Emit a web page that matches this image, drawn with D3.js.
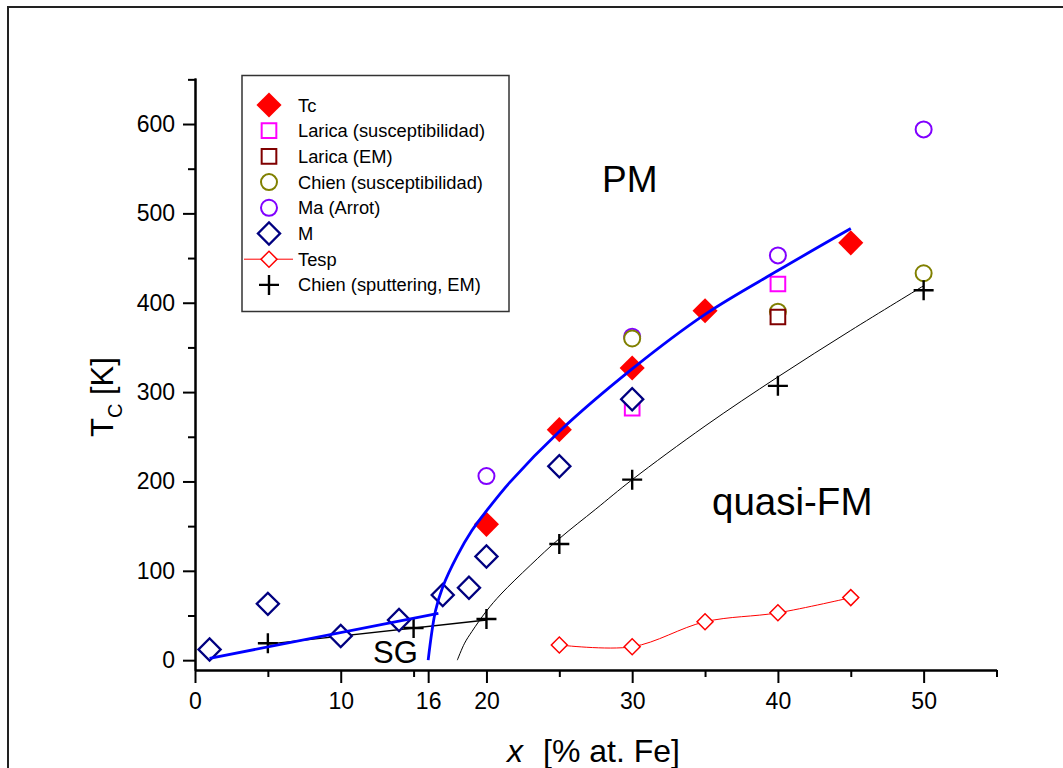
<!DOCTYPE html>
<html><head><meta charset="utf-8">
<script src="https://cdn.jsdelivr.net/npm/d3@7"></script>
<style>
html,body{margin:0;padding:0;background:#fff;}
svg{display:block;font-family:"Liberation Sans",Arial,sans-serif;}
</style></head>
<body>
<svg id="chart" width="1063" height="768"></svg>
<script>
// ---- data ----
const tcX = [20, 25, 30, 35, 45];
const tcY = [152, 258, 327, 391, 467];
const laricaSusX = [30, 40];
const laricaSusY = [282, 421];
const laricaEmX = [40];
const laricaEmY = [384];
const chienSusX = [30, 40, 50];
const chienSusY = [360, 390, 433];
const maX = [20, 30, 40, 50];
const maY = [206, 362, 453, 594];
const mX = [1, 5, 10, 14, 17, 18.8, 20, 25, 30];
const mY = [12, 63, 27, 45, 73, 81, 116, 217, 292];
const tespX = [25, 30, 35, 40, 45];
const tespY = [17, 15, 43, 53, 70];
const chienSpX = [5, 15, 20, 25, 30, 40, 50];
const chienSpY = [19, 36, 46, 130, 202, 307, 414];
// guide lines
const blueLowX = [1, 16.7];
const blueLowY = [2, 52.5];
const blueFitX = [16, 16.5, 17, 18, 19, 20, 21.6, 25, 30, 35, 40, 45];
const blueFitY = [0, 55, 82, 117, 145, 167, 199, 256, 326, 387, 436, 483];
const blackLowX = [5, 20];
const blackLowY = [18, 45];
const blackFitX = [18, 18.5, 19, 20, 21, 23, 25, 27.5, 30, 35, 40, 45, 50];
const blackFitY = [0, 19, 32, 55, 74, 106, 136, 169, 202, 262, 317, 369, 419];
// ticks
const xMajorTicks = [0, 10, 16, 20, 30, 40, 50];
const xMinorTicks = [5, 15, 25, 35, 45, 55];
const yMajorTicks = [0, 100, 200, 300, 400, 500, 600];
const yMinorTicks = [50, 150, 250, 350, 450, 550, 650];
const legendLabels = ["Tc", "Larica (susceptibilidad)", "Larica (EM)", "Chien (susceptibilidad)", "Ma (Arrot)", "M", "Tesp", "Chien (sputtering, EM)"];

const zip = (a, b) => a.map((v, i) => [v, b[i]]);

const svg = d3.select("#chart");
const x = d3.scaleLinear().domain([0, 55]).range([195, 996.5]);
const y = d3.scaleLinear().domain([-11, 651.5]).range([670, 78]);

// outer frame
svg.append("rect").attr("x", 8).attr("y", 7).attr("width", 1100).attr("height", 800)
  .attr("fill", "none").attr("stroke", "#222").attr("stroke-width", 2);

// axes
function styleAxis(g) {
  g.selectAll("path.domain").attr("stroke", "#000").attr("stroke-width", 2);
  g.selectAll(".tick line").attr("stroke", "#000").attr("stroke-width", 2);
  g.selectAll("text").attr("fill", "#000").attr("font-size", 23)
    .attr("font-family", "Liberation Sans, Arial, sans-serif");
}
const gxMinor = svg.append("g").attr("transform", "translate(0,670)")
  .call(d3.axisBottom(x).tickValues(xMinorTicks).tickSize(7).tickSizeOuter(0).tickFormat(""));
styleAxis(gxMinor);
const gx = svg.append("g").attr("transform", "translate(0,670)")
  .call(d3.axisBottom(x).tickValues(xMajorTicks).tickSize(13).tickSizeOuter(0).tickPadding(10).tickFormat(d3.format("d")));
styleAxis(gx);
const gyMinor = svg.append("g").attr("transform", "translate(195,0)")
  .call(d3.axisLeft(y).tickValues(yMinorTicks).tickSize(7).tickSizeOuter(0).tickFormat(""));
styleAxis(gyMinor);
const gy = svg.append("g").attr("transform", "translate(195,0)")
  .call(d3.axisLeft(y).tickValues(yMajorTicks).tickSize(12).tickSizeOuter(0).tickPadding(8).tickFormat(d3.format("d")));
styleAxis(gy);

// axis titles
const xt = svg.append("text").attr("x", 507).attr("y", 762).attr("font-size", 32).attr("fill", "#000");
xt.append("tspan").attr("font-style", "italic").text("x");
xt.append("tspan").attr("dx", 20).text("[% at. Fe]");
const yt = svg.append("text").attr("transform", "translate(113,437) rotate(-90)").attr("font-size", 31).attr("fill", "#000");
yt.append("tspan").text("T");
yt.append("tspan").attr("font-size", 20).attr("dy", 9).text("C");
yt.append("tspan").attr("dy", -9).text(" [K]");

// region labels
svg.append("text").attr("x", 602).attr("y", 192).attr("font-size", 37).text("PM");
svg.append("text").attr("x", 712).attr("y", 515).attr("font-size", 38.5).text("quasi-FM");
svg.append("text").attr("x", 373).attr("y", 663).attr("font-size", 31).text("SG");

const line = d3.line().x(d => x(d[0])).y(d => y(d[1]));
const lineSmooth = d3.line().x(d => x(d[0])).y(d => y(d[1])).curve(d3.curveCatmullRom.alpha(0.5));

// black guide lines
svg.append("path").attr("d", line(zip(blackLowX, blackLowY))).attr("fill", "none").attr("stroke", "#000").attr("stroke-width", 1.4);
svg.append("path").attr("d", lineSmooth(zip(blackFitX, blackFitY))).attr("fill", "none").attr("stroke", "#000").attr("stroke-width", 1);

// symbol helpers
const diamondPath = (s) => d3.symbol().type(d3.symbolSquare).size(s)();
function drawSquares(xs, ys, size, color, sw, fill, rot) {
  svg.append("g").selectAll("path").data(zip(xs, ys)).join("path")
    .attr("d", diamondPath(size))
    .attr("transform", d => `translate(${x(d[0])},${y(d[1])})` + (rot ? " rotate(45)" : ""))
    .attr("fill", fill).attr("stroke", color).attr("stroke-width", sw);
}
function drawCircles(xs, ys, r, color) {
  svg.append("g").selectAll("circle").data(zip(xs, ys)).join("circle")
    .attr("cx", d => x(d[0])).attr("cy", d => y(d[1])).attr("r", r)
    .attr("fill", "#fff").attr("stroke", color).attr("stroke-width", 2);
}

drawCircles(maX, maY, 8, "#8000ff");
drawCircles(chienSusX, chienSusY, 8, "#808000");
drawSquares(laricaSusX, laricaSusY, 215, "#ff00ff", 2, "#fff", false);
drawSquares(laricaEmX, laricaEmY, 215, "#800000", 2, "#fff", false);
drawSquares(mX, mY, 245, "#000080", 2.3, "#fff", true);
drawSquares(tcX, tcY, 315, "none", 0, "#ff0000", true);

// Tesp
svg.append("path").attr("d", lineSmooth(zip(tespX, tespY))).attr("fill", "none").attr("stroke", "#ff0000").attr("stroke-width", 1);
drawSquares(tespX, tespY, 128, "#ff0000", 1.5, "#fff", true);

// plus markers
svg.append("g").selectAll("path").data(zip(chienSpX, chienSpY)).join("path")
  .attr("d", "M-10,0H10M0,-10V10")
  .attr("transform", d => `translate(${x(d[0])},${y(d[1])})`)
  .attr("stroke", "#000").attr("stroke-width", 2.4).attr("fill", "none");

// blue lines
svg.append("path").attr("d", line(zip(blueLowX, blueLowY))).attr("fill", "none").attr("stroke", "#0000ff").attr("stroke-width", 2.8);
svg.append("path").attr("d", lineSmooth(zip(blueFitX, blueFitY))).attr("fill", "none").attr("stroke", "#0000ff").attr("stroke-width", 2.8);

// legend
const lg = svg.append("g");
lg.append("rect").attr("x", 242).attr("y", 75.5).attr("width", 267).attr("height", 236)
  .attr("fill", "#fff").attr("stroke", "#333").attr("stroke-width", 1.5);
const rowY = i => 105 + i * 25.7;
const sx = 269;
legendLabels.forEach((t, i) => {
  lg.append("text").attr("x", 298).attr("y", rowY(i) + 6.5).attr("font-size", 18.3).attr("fill", "#000").text(t);
});
// legend symbols
lg.append("path").attr("d", diamondPath(315)).attr("transform", `translate(${sx},${rowY(0)}) rotate(45)`).attr("fill", "#ff0000");
lg.append("path").attr("d", diamondPath(215)).attr("transform", `translate(${sx},${rowY(1)})`).attr("fill", "#fff").attr("stroke", "#ff00ff").attr("stroke-width", 2);
lg.append("path").attr("d", diamondPath(215)).attr("transform", `translate(${sx},${rowY(2)})`).attr("fill", "#fff").attr("stroke", "#800000").attr("stroke-width", 2);
lg.append("circle").attr("cx", sx).attr("cy", rowY(3)).attr("r", 8).attr("fill", "#fff").attr("stroke", "#808000").attr("stroke-width", 2);
lg.append("circle").attr("cx", sx).attr("cy", rowY(4)).attr("r", 8).attr("fill", "#fff").attr("stroke", "#8000ff").attr("stroke-width", 2);
lg.append("path").attr("d", diamondPath(245)).attr("transform", `translate(${sx},${rowY(5)}) rotate(45)`).attr("fill", "#fff").attr("stroke", "#000080").attr("stroke-width", 2.3);
lg.append("line").attr("x1", 244).attr("x2", 293).attr("y1", rowY(6)).attr("y2", rowY(6)).attr("stroke", "#ff0000").attr("stroke-width", 1);
lg.append("path").attr("d", diamondPath(128)).attr("transform", `translate(${sx},${rowY(6)}) rotate(45)`).attr("fill", "#fff").attr("stroke", "#ff0000").attr("stroke-width", 1.5);
lg.append("path").attr("d", "M-10,0H10M0,-10V10").attr("transform", `translate(${sx},${rowY(7)})`).attr("stroke", "#000").attr("stroke-width", 2.4);
</script>
</body></html>
